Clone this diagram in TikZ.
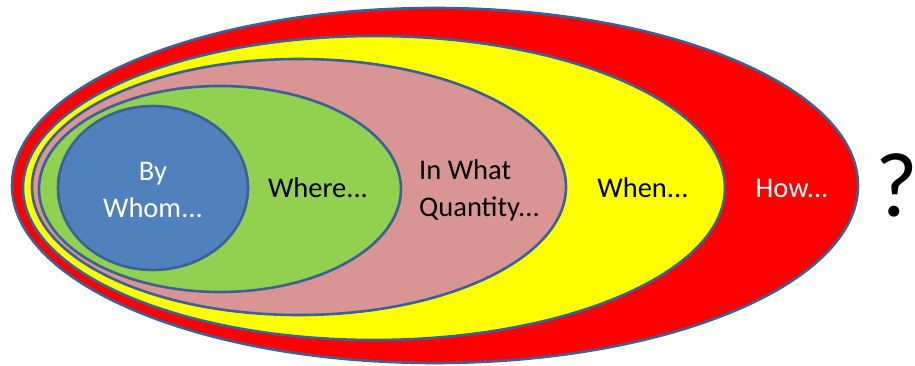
\documentclass[tikz,border=0pt]{standalone}
\usepackage{fontspec}
\setmainfont{Carlito}
\usetikzlibrary{shapes.geometric}
\definecolor{edgeblue}{HTML}{3B6196}
\definecolor{cred}{HTML}{FF0000}
\definecolor{cyellow}{HTML}{FFFF00}
\definecolor{cpink}{HTML}{D99594}
\definecolor{cgreen}{HTML}{92D050}
\definecolor{cblue}{HTML}{4F81BD}
\tikzset{
  ring/.style={ellipse, draw=edgeblue, line width=2.6pt, inner sep=0pt, outer sep=0pt},
  lbl/.style={font=\fontsize{28.5}{37}\selectfont, align=left, inner sep=0pt},
}
\begin{document}
\begin{tikzpicture}[x=1pt,y=-1pt]
\useasboundingbox (0,0) rectangle (915,366);
\node[ring, fill=cred, minimum width=846pt, minimum height=355pt] (red) at (435,185.5) {};
\node[ring, fill=cyellow, minimum width=702pt, minimum height=304pt] (yellow) at (374,188) {};
\node[ring, fill=cpink, minimum width=534pt, minimum height=256pt] (pink) at (299,187) {};
\node[ring, fill=cgreen, minimum width=362pt, minimum height=206pt] (green) at (220,189) {};
\node[ring, fill=cblue, minimum width=190pt, minimum height=164pt] (blue) at (153,188) {};
\node[lbl, text=white, align=center] (bywhom) at (153,190) {By\\Whom...};
\node[lbl] (where) at (318,188) {Where...};
\node[lbl, anchor=west] (inwhat) at (419,190) {In What\\Quantity...};
\node[lbl] (when) at (643,188) {When...};
\node[lbl, text=white] (how) at (792,188) {How...};
\node[font=\fontsize{92}{92}\selectfont, inner sep=0pt] (q) at (897,185) {\makebox[32pt][c]{?}};
\end{tikzpicture}
\end{document}
